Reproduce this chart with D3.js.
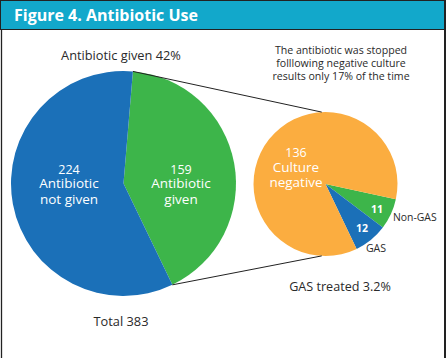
<!DOCTYPE html>
<html><head><meta charset="utf-8">
<script src="https://cdn.jsdelivr.net/npm/d3@7"></script>
<style>body{margin:0;background:#fff}svg{display:block}text{font-family:"Open Sans","Noto Sans",sans-serif}</style>
</head><body>
<script>
const title = "Figure 4. Antibiotic Use";
const mainCategories = ["Antibiotic given", "Antibiotic not given"];
const mainValues = [159, 224];
const mainLabels = [["159","Antibiotic","given"],["224","Antibiotic","not given"]];
const subCategories = ["Non-GAS", "GAS", "Culture negative"];
const subValues = [11, 12, 136];
const subLabels = [["11"],["12"],["136","Culture","negative"]];
const mainTitle = "Antibiotic given 42%";
const mainTotal = "Total 383";
const note = ["The antibiotic was stopped","folllowing negative culture","results only 17% of the time"];
const subTitle = "GAS treated 3.2%";

const W = 447, H = 358;
const BLUE = "#1b70b8", GREEN = "#3db54a", ORANGE = "#fbad40", TEAL = "#12a8cb";
const svg = d3.select("body").append("svg").attr("width", W).attr("height", H);

// frame
svg.append("rect").attr("x",0.5).attr("y",0.5).attr("width",445).attr("height",29).attr("fill",TEAL).attr("stroke","#222").attr("stroke-width",1);
svg.append("line").attr("x1",1.5).attr("x2",1.5).attr("y1",30).attr("y2",H).attr("stroke","#222").attr("stroke-width",1.3);
svg.append("line").attr("x1",445).attr("x2",445).attr("y1",0).attr("y2",H).attr("stroke","#222").attr("stroke-width",2);
svg.append("text").attr("x",14).attr("y",21).attr("fill","#fff").attr("font-size",16).attr("font-weight","bold").text(title);

// main pie
const mc = {x:123.5, y:183.5}, mr = 112.5;
const mainPie = d3.pie().sort(null).startAngle(4.8*Math.PI/180).endAngle((4.8+360)*Math.PI/180);
const mainArcs = mainPie(mainValues);
const mainArc = d3.arc().innerRadius(0).outerRadius(mr);
const gm = svg.append("g").attr("transform",`translate(${mc.x},${mc.y})`);
gm.selectAll("path").data(mainArcs).join("path").attr("d",mainArc).attr("fill",(d,i)=>[GREEN,BLUE][i]);

// sub pie
const sc = {x:325.5, y:184}, sr = 72;
const subPie = d3.pie().sort(null).startAngle(102.3*Math.PI/180).endAngle((102.3+360)*Math.PI/180);
const subArcs = subPie(subValues);
const subArc = d3.arc().innerRadius(0).outerRadius(sr);
const gs = svg.append("g").attr("transform",`translate(${sc.x},${sc.y})`);
gs.selectAll("path").data(subArcs).join("path").attr("d",subArc).attr("fill",(d,i)=>[GREEN,BLUE,ORANGE][i]);

// connector lines from green slice edges to sub pie top/bottom
const pt = (c,r,a)=>[c.x + r*Math.sin(a), c.y - r*Math.cos(a)];
const g0 = pt(mc,mr,mainArcs[0].startAngle), g1 = pt(mc,mr,mainArcs[0].endAngle);
const s0 = pt(sc,sr,-3*Math.PI/180), s1 = pt(sc,sr,183*Math.PI/180);
svg.append("line").attr("x1",g0[0]).attr("y1",g0[1]).attr("x2",s0[0]).attr("y2",s0[1]).attr("stroke","#222").attr("stroke-width",1);
svg.append("line").attr("x1",g1[0]).attr("y1",g1[1]).attr("x2",s1[0]).attr("y2",s1[1]).attr("stroke","#222").attr("stroke-width",1);

// slice labels
const mainLabelPos = [[181,174],[69,174]];
const mainDy = [0,14,30];
mainLabels.forEach((lines,i)=>{
  lines.forEach((s,j)=>svg.append("text").attr("text-anchor","middle").attr("fill","#fff")
    .attr("font-size",j==0?12.5:13.5).attr("font-weight",500)
    .attr("x",mainLabelPos[i][0]).attr("y",mainLabelPos[i][1]+mainDy[j]).text(s));
});
const subLabelPos = [[377,213],[362,232],[296,157]];
const subDy = [0,15,30];
subLabels.forEach((lines,i)=>{
  lines.forEach((s,j)=>{
    const t = svg.append("text").attr("text-anchor","middle").attr("fill","#fff")
      .attr("x",subLabelPos[i][0]).attr("y",subLabelPos[i][1]+subDy[j]).text(s);
    if(i<2) t.attr("font-size",10.5).attr("font-weight","bold");
    else t.attr("font-size",j==0?12.5:13.5).attr("font-weight",500);
  });
});

// outer texts
const dark = "#2a2a2a";
svg.append("text").attr("x",121).attr("y",60).attr("text-anchor","middle").attr("fill",dark).attr("font-size",12.8).text(mainTitle);
svg.append("text").attr("x",121).attr("y",326).attr("text-anchor","middle").attr("fill",dark).attr("font-size",12.8).text(mainTotal);
note.forEach((s,i)=>svg.append("text").attr("text-anchor","middle").attr("fill",dark).attr("font-size",10.6)
  .attr("x",341).attr("y",54+13*i).text(s));
svg.append("text").attr("x",393).attr("y",221).attr("fill",dark).attr("font-size",10.4).text(subCategories[0]);
svg.append("text").attr("x",376).attr("y",252).attr("text-anchor","middle").attr("fill",dark).attr("font-size",10.6).text(subCategories[1]);
svg.append("text").attr("x",340).attr("y",291).attr("text-anchor","middle").attr("fill",dark).attr("font-size",12.6).text(subTitle);
</script>
</body></html>
